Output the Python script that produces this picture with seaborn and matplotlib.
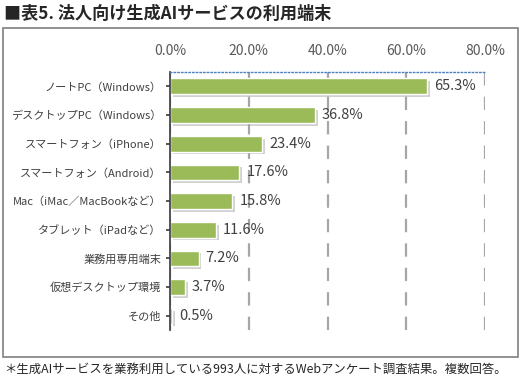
import matplotlib
matplotlib.use("Agg")
import matplotlib.pyplot as plt
import matplotlib.patheffects as pe
from matplotlib.patches import Rectangle
from matplotlib.ticker import FuncFormatter
import pandas as pd
import seaborn as sns

categories = [
    "ノートPC（Windows）",
    "デスクトップPC（Windows）",
    "スマートフォン（iPhone）",
    "スマートフォン（Android）",
    "Mac（iMac／MacBookなど）",
    "タブレット（iPadなど）",
    "業務用専用端末",
    "仮想デスクトップ環境",
    "その他",
]
values = [65.3, 36.8, 23.4, 17.6, 15.8, 11.6, 7.2, 3.7, 0.5]
x_ticks = [0, 20, 40, 60, 80]

title = "■表5. 法人向け生成AIサービスの利用端末"
note = "＊生成AIサービスを業務利用している993人に対するWebアンケート調査結果。複数回答。"

sns.set_theme(style="white")
plt.rcParams["font.family"] = ["Noto Sans CJK JP", "DejaVu Sans"]

df = pd.DataFrame({"category": categories, "value": values})

fig = plt.figure(figsize=(5.22, 3.83), dpi=100)
ax = fig.add_axes([0.326, 0.138, 0.603, 0.674])

sns.barplot(data=df, y="category", x="value", orient="h", color="#9BBB59",
            saturation=1, width=0.55, ax=ax)
# Excel 風の影
for bar in ax.patches:
    bar.set_path_effects([pe.SimplePatchShadow(offset=(2, -2), shadow_rgbFace="#999999", alpha=0.45),
                          pe.Normal()])

ax.set_xlim(0, 80)
ax.set_xticks(x_ticks)
ax.xaxis.set_major_formatter(FuncFormatter(lambda v, _: f"{v:.1f}%"))
ax.xaxis.tick_top()
ax.tick_params(axis="x", length=0, pad=10, labelsize=10, labelcolor="#595959")
ax.tick_params(axis="y", length=3, left=True, labelsize=8, labelcolor="#404040", color="#404040")
ax.set_xlabel("")
ax.set_ylabel("")

ax.grid(axis="x", color="#A6A6A6", linestyle=(0, (6, 5)), linewidth=1.6)
ax.set_axisbelow(True)
for s in ["right", "bottom"]:
    ax.spines[s].set_visible(False)
ax.spines["left"].set_color("#404040")
ax.spines["top"].set_color("#4F81BD")
ax.spines["top"].set_linestyle(":")
ax.spines["top"].set_linewidth(1)

for bar, v in zip(ax.patches, values):
    ax.text(v + 1.8, bar.get_y() + bar.get_height() / 2, f"{v:.1f}%",
            va="center", ha="left", fontsize=10.5, color="#404040")

fig.patches.append(Rectangle((0.006, 0.068), 0.986, 0.859, transform=fig.transFigure,
                             fill=False, edgecolor="#7F7F7F", linewidth=1.2))
fig.text(0.008, 0.963, title, fontsize=12.3, fontweight="bold", va="center", ha="left")
fig.text(0.008, 0.036, note, fontsize=8.9, va="center", ha="left")

fig.savefig("out.png", dpi=100)
